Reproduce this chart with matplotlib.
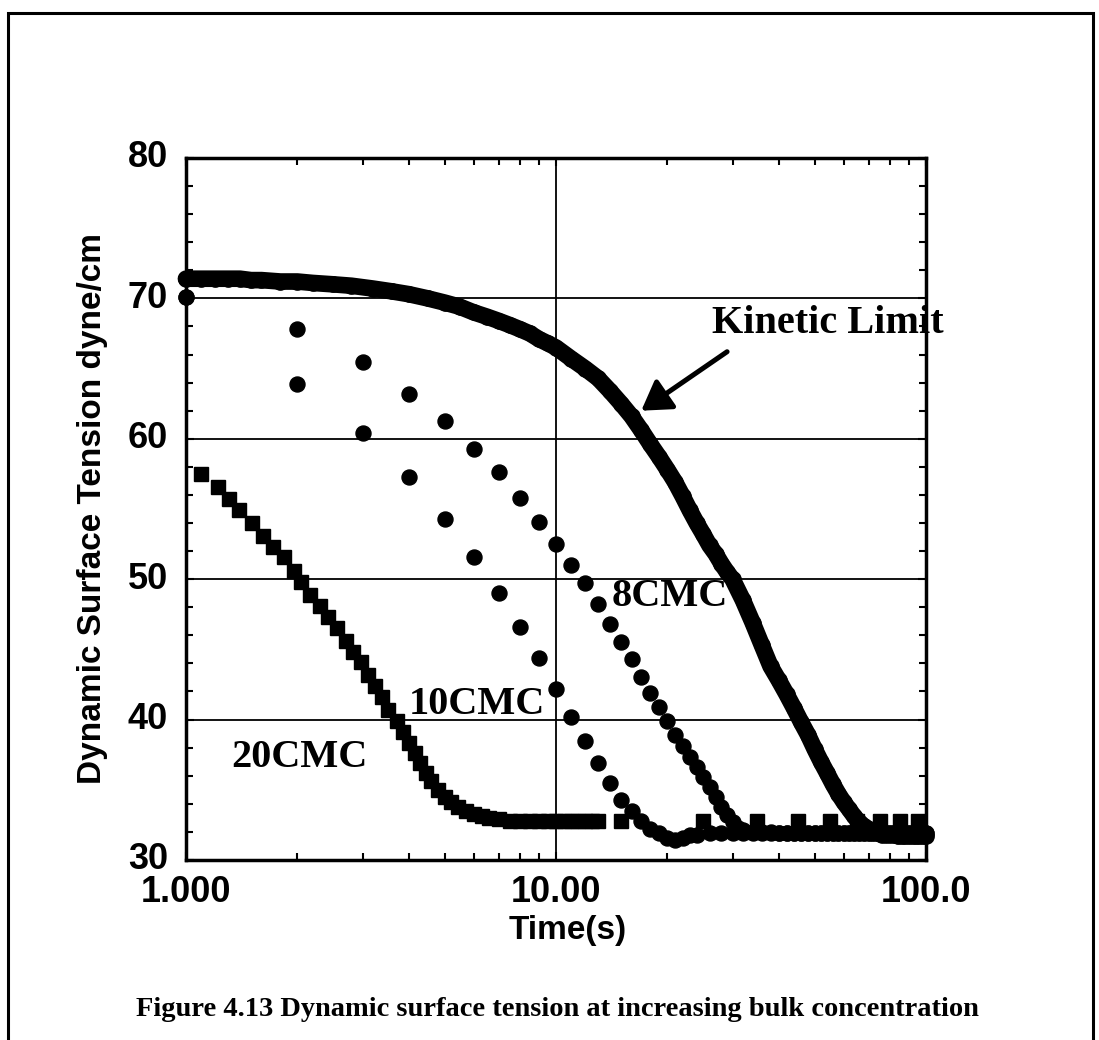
import matplotlib
matplotlib.use('Agg')
import matplotlib.pyplot as plt
import matplotlib.transforms as mtransforms
from matplotlib.ticker import FixedLocator, FixedFormatter, LogLocator, NullFormatter, MultipleLocator
from matplotlib.patches import Rectangle

# Kinetic limit (dense circles, drawn as thick line)
KIN_T = [1.0, 1.1, 1.2, 1.3, 1.4, 1.5, 1.6, 1.8, 2.0, 2.2, 2.5, 2.8, 3.2, 3.6, 4.0, 4.5,
         5.0, 5.5, 6.0, 6.5, 7.0, 7.5, 8.0, 8.5, 9.0, 9.5,
         10, 11, 12, 13, 14, 15, 16, 17, 18, 19, 20, 21, 22, 23, 24, 25, 26, 27, 28, 29, 30,
         32, 34, 36, 38, 40, 42, 44, 46, 48, 50, 52, 54, 56, 58, 60, 62, 64, 66, 68, 70,
         72, 74, 76, 78, 80, 82, 84, 86, 88, 90, 92, 94, 96, 98, 100]
KIN_Y = [71.4, 71.4, 71.4, 71.4, 71.4, 71.3, 71.3, 71.2, 71.2, 71.1, 71.0, 70.9, 70.7, 70.5, 70.3, 70.0,
         69.7, 69.4, 69.0, 68.7, 68.4, 68.1, 67.8, 67.5, 67.1, 66.8,
         66.5, 65.7, 65.0, 64.3, 63.4, 62.5, 61.6, 60.6, 59.6, 58.7, 57.8, 56.9, 55.9, 54.9, 54.0,
         53.2, 52.4, 51.8, 51.1, 50.5, 50.0,
         48.5, 46.9, 45.3, 43.8, 42.8, 41.8, 40.8, 39.8, 38.9, 37.9, 37.0, 36.2, 35.4, 34.7, 34.1,
         33.6, 33.1, 32.7, 32.4, 32.2,
         32.0, 31.9, 31.8, 31.8, 31.8, 31.8, 31.7, 31.7, 31.7, 31.7, 31.7, 31.7, 31.7, 31.7, 31.7]

# 8CMC
T_8 = [1, 2, 3, 4, 5, 6, 7, 8, 9, 10, 11, 12, 13, 14, 15, 16, 17, 18, 19, 20, 21, 22, 23, 24,
       25, 26, 27, 28, 29, 30, 31, 32, 34, 36, 38, 40, 42, 44, 46, 48, 50, 52, 54, 56, 58,
       60, 62, 64, 66, 68, 70, 72, 74, 76, 78, 80, 82, 84, 86, 88, 90, 92, 94, 96, 98, 100]
Y_8 = [70.1, 67.8, 65.5, 63.2, 61.3, 59.3, 57.6, 55.8, 54.1, 52.5, 51.0, 49.7, 48.2, 46.8, 45.5,
       44.3, 43.0, 41.9, 40.9, 39.9, 38.9, 38.1, 37.3, 36.6, 35.9, 35.2, 34.5, 33.8, 33.2, 32.7,
       32.3, 32.1, 32.0, 32.0, 32.0, 31.9, 31.9, 31.9, 31.9, 31.9, 31.9, 31.9, 31.9, 31.9, 31.9,
       31.9, 31.9, 31.9, 31.9, 31.9, 31.9, 31.9, 31.9, 31.9, 31.9, 31.9, 31.9, 31.9, 31.9, 31.9,
       31.9, 31.9, 31.9, 31.9, 31.9, 31.9]

# 10CMC
T_10 = [1, 2, 3, 4, 5, 6, 7, 8, 9, 10, 11, 12, 13, 14, 15, 16, 17, 18, 19, 20, 21, 22, 23, 24,
        26, 28, 30, 32, 34, 36, 38, 40, 42, 44, 46, 48, 50, 52, 54, 56, 58, 60, 62, 64, 66,
        68, 70, 72, 74, 76, 78, 80, 82, 84, 86, 88, 90, 92, 94, 96, 98, 100]
Y_10 = [70.1, 63.9, 60.4, 57.3, 54.3, 51.6, 49.0, 46.6, 44.4, 42.2, 40.2, 38.5, 36.9, 35.5, 34.3,
        33.5, 32.8, 32.2, 31.9, 31.6, 31.4, 31.6, 31.8, 31.8,
        31.9, 31.9, 31.9, 31.9, 31.9, 31.9, 31.9, 31.9, 31.9, 31.9, 31.9, 31.9, 31.9, 31.9, 31.9,
        31.9, 31.9, 31.9, 31.9, 31.9, 31.9, 31.9, 31.9, 31.9, 31.9, 31.9, 31.9, 31.9, 31.9, 31.9,
        31.9, 31.9, 31.9, 31.9, 31.9, 31.9, 31.9, 31.9]

# 20CMC (squares)
T_20 = [1.10, 1.22, 1.31, 1.39, 1.51, 1.62, 1.72, 1.84, 1.96, 2.05, 2.16, 2.30, 2.42, 2.56,
        2.70, 2.83, 2.97, 3.11, 3.24, 3.38, 3.52, 3.71, 3.87, 4.0, 4.15, 4.3, 4.45, 4.6, 4.8,
        5.0, 5.2, 5.45, 5.7, 6.0, 6.3, 6.6, 7.0, 7.5, 8.0, 8.5, 9.0, 9.5, 10.0, 10.5, 11.0,
        11.5, 12.0, 12.5, 13.0, 15, 25, 35, 45, 55, 65, 75, 85, 95]
Y_20 = [57.5, 56.6, 55.7, 54.9, 54.0, 53.1, 52.3, 51.6, 50.6, 49.8, 48.9, 48.1, 47.3, 46.5,
        45.6, 44.8, 44.1, 43.2, 42.4, 41.6, 40.7, 39.9, 39.1, 38.3, 37.6, 36.9, 36.2, 35.6, 35.0,
        34.5, 34.1, 33.8, 33.5, 33.3, 33.1, 33.0, 32.9, 32.8, 32.8, 32.8, 32.8, 32.8, 32.8, 32.8,
        32.8, 32.8, 32.8, 32.8, 32.8, 32.8, 32.8, 32.8, 32.8, 32.8, 32.8, 32.8, 32.8, 32.8]

X_TICKS = [1, 10, 100]
X_TICKLABELS = ['1.000', '10.00', '100.0']
Y_TICKS = [30, 40, 50, 60, 70, 80]
Y_TICKLABELS = ['30', '40', '50', '60', '70', '80']

CAPTION = 'Figure 4.13 Dynamic surface tension at increasing bulk concentration'

SANS = 'Liberation Sans'
SERIF = 'Liberation Serif'


def main():
    fig = plt.figure(figsize=(10.99, 10.40), dpi=100)
    ax = fig.add_axes([0.1692, 0.1731, 0.6734, 0.675])
    ax.set_xscale('log')
    ax.set_xlim(1, 100)
    ax.set_ylim(30, 80)

    # grid
    ax.set_axisbelow(True)
    for x in [10]:
        ax.axvline(x, color='black', lw=1.3, zorder=0)
    for y in [40, 50, 60, 70]:
        ax.axhline(y, color='black', lw=1.3, zorder=0)

    ax.plot(KIN_T, KIN_Y, '-o', color='black', lw=12, ms=11,
            solid_capstyle='round', clip_on=False, zorder=3)
    ax.plot(T_8, Y_8, 'o', color='black', ms=10.8, clip_on=False, zorder=3)
    ax.plot(T_10, Y_10, 'o', color='black', ms=10.8, clip_on=False, zorder=3)
    ax.plot(T_20, Y_20, 's', color='black', ms=10.5, clip_on=False, zorder=3)

    # axes styling
    for sp in ax.spines.values():
        sp.set_linewidth(2.5)
    ax.xaxis.set_major_locator(FixedLocator(X_TICKS))
    ax.xaxis.set_major_formatter(FixedFormatter(X_TICKLABELS))
    ax.xaxis.set_minor_locator(LogLocator(base=10, subs=[2, 3, 4, 5, 6, 7, 8, 9]))
    ax.xaxis.set_minor_formatter(NullFormatter())
    ax.yaxis.set_major_locator(FixedLocator(Y_TICKS))
    ax.yaxis.set_major_formatter(FixedFormatter(Y_TICKLABELS))
    ax.yaxis.set_minor_locator(MultipleLocator(2))
    ax.tick_params(which='both', direction='in', top=True, right=True, color='black')
    ax.tick_params(which='major', length=6, width=1.5)
    ax.tick_params(which='minor', length=5, width=1.5)
    ax.tick_params(axis='x', which='major', pad=11)
    ax.tick_params(axis='y', which='major', pad=13)
    up = mtransforms.ScaledTranslation(0, 4 / 100, fig.dpi_scale_trans)
    for lab in ax.get_xticklabels() + ax.get_yticklabels():
        lab.set_fontfamily(SANS)
        lab.set_fontweight('bold')
        lab.set_fontsize(26)
    for lab in ax.get_yticklabels():
        lab.set_transform(lab.get_transform() + up)

    ax.set_xlabel('Time(s)', fontfamily=SANS, fontweight='bold', fontsize=24)
    ax.set_ylabel('Dynamic Surface Tension dyne/cm', fontfamily=SANS, fontweight='bold', fontsize=24)
    ax.xaxis.set_label_coords(0.516, -0.078)
    ax.yaxis.set_label_coords(-0.105, 0.5)

    # annotations
    lbl = dict(fontfamily=SERIF, fontweight='bold', fontsize=29, color='black', zorder=5)
    ax.text(26.4, 68.2, 'Kinetic Limit', ha='left', va='center', **lbl)
    ax.text(14.1, 48.8, '8CMC', ha='left', va='center', **lbl)
    ax.text(6.13, 41.05, '10CMC', ha='center', va='center', **lbl)
    ax.text(2.03, 37.3, '20CMC', ha='center', va='center', **lbl)
    ax.annotate('', xy=(17.0, 62.0), xytext=(29.0, 66.2),
                arrowprops=dict(arrowstyle='-|>,head_length=0.58,head_width=0.36',
                                lw=3.6, color='black', mutation_scale=30,
                                shrinkA=0, shrinkB=0))

    # page frame and caption
    fig.patches.append(Rectangle((8 / 1099, -0.05), 1085 / 1099, 1.05 - 13 / 1040,
                                 transform=fig.transFigure, fill=False,
                                 lw=2.2, edgecolor='black'))
    fig.text(0.507, 0.029, CAPTION, ha='center', va='center',
             fontfamily=SERIF, fontweight='bold', fontsize=20.5)

    fig.savefig('out.png', dpi=100)


if __name__ == '__main__':
    main()
